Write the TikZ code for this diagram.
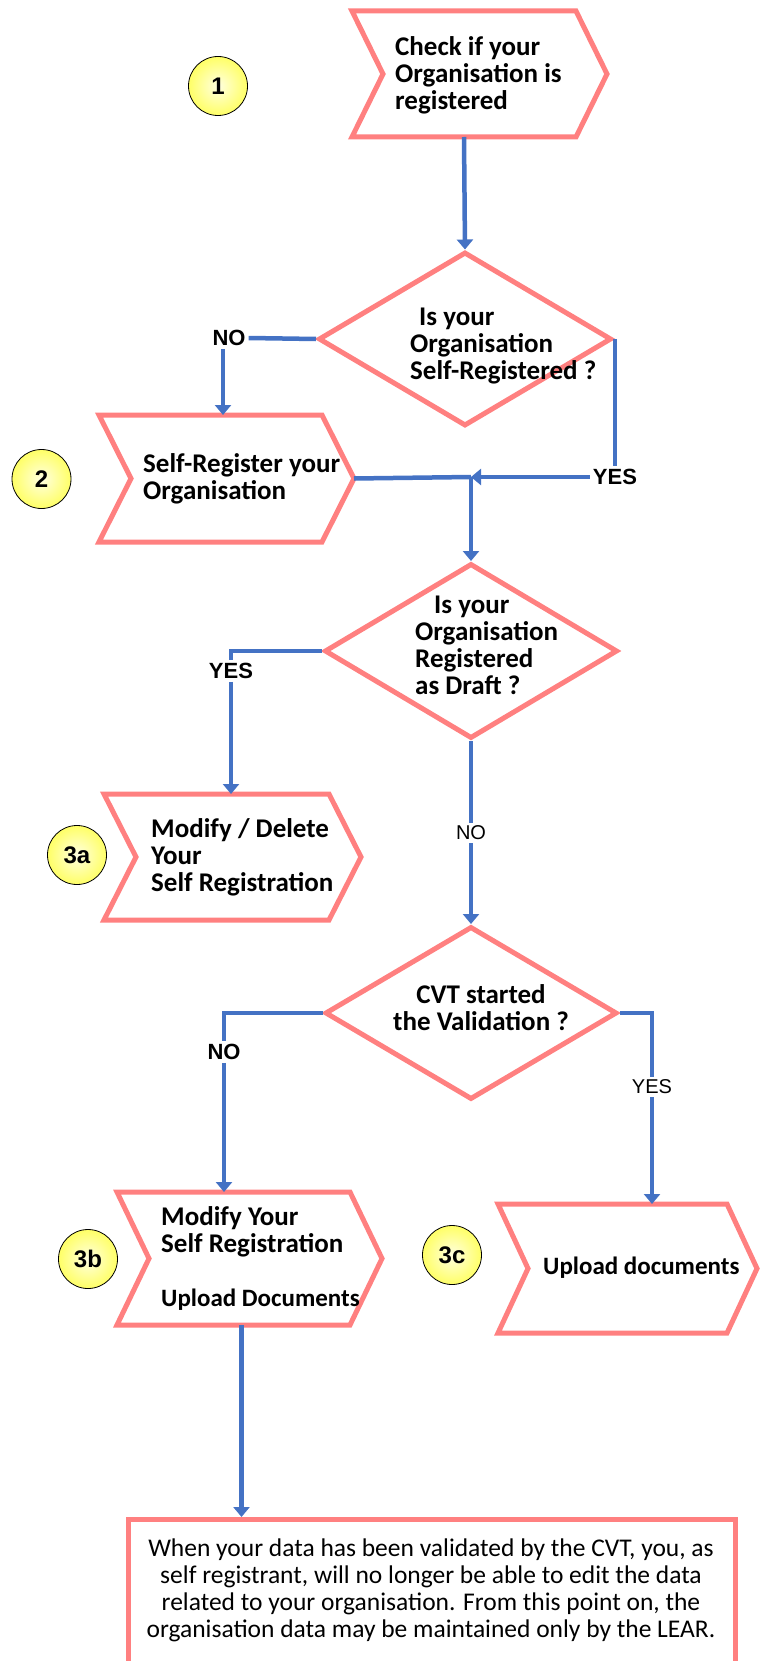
\documentclass[tikz,border=0pt]{standalone}
\usepackage{fontspec}
\setmainfont{Carlito}
\newfontfamily\lblfont{Liberation Sans}
\usetikzlibrary{shapes.geometric,arrows.meta,calc}
\definecolor{pinkln}{HTML}{FF8080}
\definecolor{blueln}{HTML}{4472C4}
\definecolor{yelout}{HTML}{FFFF66}
\definecolor{yelin}{HTML}{FFFFE0}
\tikzset{
  shapeln/.style={draw=pinkln, line width=5pt, line join=miter},
  conn/.style={draw=blueln, line width=4.5pt},
  arr/.style={conn, -{Triangle[width=16pt,length=10pt]}},
  boxarea/.style={rectangle, inner sep=0pt, outer sep=0pt},
  bt/.style={font=\bfseries\fontsize{27}{27}\selectfont, align=left, inner sep=0pt},
  rt/.style={font=\fontsize{25.5}{27}\selectfont, align=center, inner sep=0pt},
  num/.style={circle, draw=black, line width=0.8pt, inner color=yelin, outer color=yelout,
    minimum size=59pt, inner sep=0pt, font=\lblfont\bfseries\fontsize{24}{24}\selectfont},
  yn/.style={font=\lblfont\bfseries\fontsize{22}{22}\selectfont, inner sep=3pt},
  ynr/.style={font=\lblfont\fontsize{20}{20}\selectfont, inner sep=3pt},
}
\newcommand\chevshape[2]{\draw[shapeln] (#1.north west) -- (#1.north east) -- ($(#1.east)+(#2,0)$) -- (#1.south east) -- (#1.south west) -- ($(#1.west)+(#2,0)$) -- cycle;}
\begin{document}
\begin{tikzpicture}[x=1pt,y=-1pt]
\useasboundingbox (0,0) rectangle (760,1661);
\begin{scope}
\clip (0,0) rectangle (760,1661);
% chevron areas
\node[boxarea, minimum width=224pt, minimum height=126pt] (b1) at (464,74) {};
\node[boxarea, minimum width=223pt, minimum height=127pt] (b2) at (210.5,478.5) {};
\node[boxarea, minimum width=225pt, minimum height=126pt] (b3a) at (216.5,857) {};
\node[boxarea, minimum width=233pt, minimum height=133pt] (b3b) at (233.5,1258.5) {};
\node[boxarea, minimum width=229pt, minimum height=129pt] (b3c) at (612.5,1268.5) {};
\chevshape{b1}{31}
\chevshape{b2}{32}
\chevshape{b3a}{32}
\chevshape{b3b}{32}
\chevshape{b3c}{30}
\coordinate (b2tip) at ($(b2.east)+(32,0)$);
% diamonds
\node[diamond, shapeln, minimum width=293pt, minimum height=174pt, inner sep=0pt] (d1) at (465,339) {};
\node[diamond, shapeln, minimum width=293pt, minimum height=175pt, inner sep=0pt] (d2) at (471,651) {};
\node[diamond, shapeln, minimum width=292pt, minimum height=173pt, inner sep=0pt] (d3) at (471,1013) {};
% final box
\node[shapeln, rectangle, minimum width=607pt, minimum height=200pt, anchor=north west, inner sep=0pt] (fin) at (126,1517) {};
% circles
\node[num] (c1) at (218,86) {1};
\node[num] (c2) at (41.5,479) {2};
\node[num] (c3a) at (77,855) {3a};
\node[num] (c3b) at (88,1259) {3b};
\node[num] (c3c) at (452,1255) {3c};
% labels
\node[yn] (no1) at (229,338) {NO};
\node[yn] (yes1) at (615,477) {YES};
\node[yn] (yes2) at (231,671) {YES};
\node[ynr] (no2) at (471,833) {NO};
\node[yn] (no3) at (224,1052) {NO};
\node[ynr] (yes3) at (652,1087) {YES};
\coordinate (j1) at (471,477);
% connectors
\draw[arr] (b1.south) -- (d1.north);
\draw[conn] (d1.west) -- (no1.east);
\draw[arr] ([xshift=-6pt]no1.south) -- ([xshift=-6pt]no1.south |- b2.north);
\draw[conn] (yes1.north |- d1.east) -- (yes1.north);
\draw[arr] (yes1.west) -- (j1);
\draw[conn] (b2tip) -- (j1);
\draw[arr] (j1) -- (d2.north);
\draw[conn] (d2.west) -| (yes2.north);
\draw[arr] (yes2.south) -- (yes2.south |- b3a.north);
\draw[conn] (d2.south) -- (no2.north);
\draw[arr] (no2.south) -- (d3.north);
\draw[conn] (d3.west) -| (no3.north);
\draw[arr] (no3.south) -- (no3.south |- b3b.north);
\draw[conn] (d3.east) -| (yes3.north);
\draw[arr] (yes3.south) -- (yes3.south |- b3c.north);
\draw[arr] ([xshift=8pt]b3b.south) -- ([xshift=8pt]b3b.south |- fin.north);
% texts
\node[bt, anchor=west] (t1) at (395,75) {Check if your\\Organisation is\\registered};
\node[bt, anchor=west] (t2) at (143,479) {Self-Register your\\Organisation};
\node[bt, anchor=west] (td1) at (410,346) {\hspace*{9pt}Is your\\Organisation\\Self-Registered ?};
\node[bt, anchor=west] (td2) at (415,645) {\hspace*{19pt}Is your\\Organisation\\Registered\\as Draft ?};
\node[bt, align=center] (td3) at (481,1008) {CVT started\\the Validation ?};
\node[bt, anchor=west] (t3a) at (151,857) {Modify / Delete\\Your\\Self Registration};
\node[bt, anchor=west] (t3b) at (161,1258) {Modify Your\\Self Registration\\\mbox{}\\{\fontsize{25}{27}\selectfont Upload Documents}};
\node[bt, anchor=west, font=\bfseries\fontsize{25}{27}\selectfont] (t3c) at (543,1268) {Upload documents};
\node[rt] (tf) at (431,1590) {When your data has been validated by the CVT, you, as\\self registrant, will no longer be able to edit the data\\related to your organisation. From this point on, the\\organisation data may be maintained only by the LEAR.};
\end{scope}
\end{tikzpicture}
\end{document}
